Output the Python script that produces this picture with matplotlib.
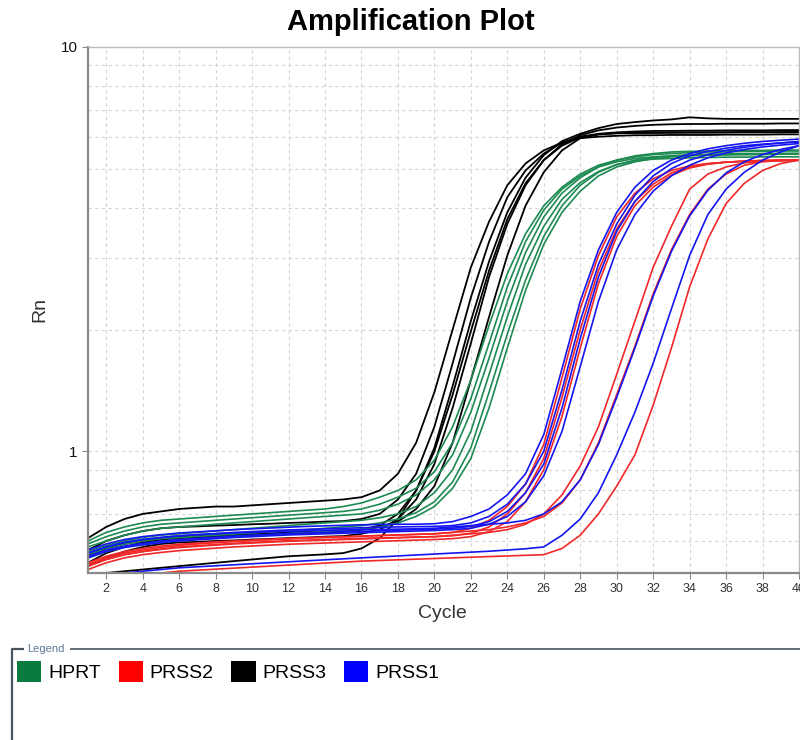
import matplotlib
matplotlib.use('Agg')
import matplotlib.pyplot as plt
from matplotlib.patches import Patch
from matplotlib.ticker import FixedLocator, NullFormatter

cycles = list(range(1, 41))

# PRSS3 (black)
prss3 = [
    [0.61,0.65,0.68,0.70,0.71,0.72,0.725,0.73,0.73,0.735, 0.74,0.745,0.75,0.755,0.76,0.77,0.80,0.88,1.05,1.40,
     2.00,2.85,3.70,4.55,5.15,5.55,5.80,5.95,6.00,6.03, 6.05,6.05,6.06,6.06,6.06,6.07,6.07,6.07,6.08,6.08],
    [0.57,0.60,0.62,0.635,0.645,0.65,0.652,0.655,0.657,0.66, 0.662,0.665,0.667,0.67,0.672,0.68,0.70,0.76,0.88,1.15,
     1.65,2.40,3.30,4.25,4.95,5.45,5.80,6.00,6.10,6.15, 6.18,6.20,6.20,6.21,6.21,6.22,6.22,6.22,6.23,6.23],
    [0.53,0.56,0.58,0.595,0.605,0.61,0.612,0.615,0.617,0.62, 0.622,0.625,0.627,0.63,0.632,0.64,0.655,0.70,0.80,1.02,
     1.45,2.10,2.95,3.90,4.75,5.40,5.85,6.10,6.30,6.45, 6.52,6.58,6.62,6.70,6.66,6.64,6.64,6.64,6.64,6.64],
    [0.52,0.545,0.565,0.58,0.59,0.595,0.597,0.60,0.602,0.605, 0.607,0.61,0.612,0.615,0.617,0.625,0.64,0.68,0.76,0.93,
     1.28,1.85,2.70,3.65,4.55,5.25,5.75,6.05,6.22,6.32, 6.38,6.42,6.44,6.45,6.45,6.46,6.46,6.46,6.47,6.47],
    [0.49,0.50,0.505,0.51,0.515,0.52,0.525,0.53,0.535,0.54, 0.545,0.55,0.553,0.556,0.56,0.575,0.61,0.68,0.80,1.00,
     1.38,1.98,2.80,3.75,4.60,5.25,5.70,5.98,6.08,6.12, 6.13,6.14,6.14,6.15,6.15,6.15,6.16,6.16,6.16,6.17],
    [0.55,0.575,0.59,0.60,0.61,0.615,0.617,0.62,0.622,0.625, 0.627,0.63,0.632,0.635,0.637,0.64,0.65,0.67,0.72,0.82,
     1.05,1.50,2.15,3.05,4.05,4.90,5.55,5.95,6.08,6.12, 6.13,6.13,6.14,6.14,6.14,6.15,6.15,6.15,6.15,6.16],
]

# HPRT (green)
hprt = [
    [0.60,0.63,0.65,0.665,0.675,0.68,0.685,0.69,0.695,0.70, 0.705,0.71,0.715,0.72,0.73,0.745,0.77,0.80,0.85,0.95,
     1.15,1.50,2.05,2.75,3.45,4.05,4.50,4.85,5.10,5.25, 5.35,5.42,5.45,5.48,5.50,5.50,5.52,5.52,5.53,5.53],
    [0.59,0.615,0.635,0.65,0.66,0.665,0.67,0.675,0.68,0.685, 0.69,0.695,0.70,0.705,0.71,0.72,0.74,0.77,0.81,0.89,
     1.05,1.35,1.85,2.55,3.30,3.95,4.45,4.80,5.05,5.20, 5.30,5.35,5.38,5.40,5.41,5.42,5.42,5.43,5.43,5.44],
    [0.58,0.60,0.62,0.635,0.645,0.65,0.655,0.66,0.665,0.67, 0.675,0.68,0.685,0.69,0.695,0.70,0.715,0.74,0.78,0.85,
     0.98,1.25,1.70,2.35,3.10,3.80,4.35,4.75,5.05,5.25, 5.38,5.45,5.50,5.52,5.53,5.54,5.55,5.55,5.56,5.56],
    [0.565,0.585,0.60,0.612,0.62,0.625,0.63,0.635,0.64,0.645, 0.65,0.655,0.66,0.665,0.67,0.675,0.685,0.70,0.73,0.79,
     0.90,1.12,1.55,2.15,2.90,3.60,4.20,4.62,4.92,5.12, 5.22,5.28,5.30,5.32,5.33,5.34,5.34,5.35,5.35,5.35],
    [0.555,0.575,0.59,0.60,0.608,0.612,0.616,0.62,0.624,0.628, 0.632,0.636,0.64,0.645,0.65,0.655,0.665,0.68,0.705,0.75,
     0.84,1.02,1.40,1.95,2.65,3.40,4.05,4.55,4.90,5.12, 5.25,5.33,5.38,5.41,5.43,5.44,5.45,5.45,5.46,5.46],
    [0.545,0.565,0.58,0.59,0.598,0.602,0.606,0.61,0.614,0.618, 0.622,0.626,0.63,0.634,0.638,0.642,0.65,0.665,0.69,0.73,
     0.81,0.96,1.28,1.80,2.50,3.25,3.90,4.40,4.80,5.05, 5.20,5.30,5.35,5.38,5.40,5.41,5.42,5.42,5.43,5.43],
]

# PRSS1 (blue)
prss1 = [
    [0.57,0.59,0.605,0.615,0.622,0.628,0.632,0.636,0.64,0.643, 0.646,0.649,0.652,0.654,0.656,0.658,0.659,0.66,0.66,0.662,
     0.67,0.69,0.72,0.78,0.88,1.10,1.60,2.35,3.15,3.90, 4.50,4.95,5.25,5.45,5.60,5.70,5.78,5.84,5.88,5.92],
    [0.56,0.58,0.595,0.605,0.612,0.618,0.622,0.626,0.63,0.633, 0.636,0.639,0.641,0.643,0.645,0.647,0.649,0.65,0.651,0.652,
     0.655,0.665,0.69,0.74,0.83,1.00,1.42,2.10,2.90,3.65, 4.30,4.80,5.15,5.38,5.52,5.62,5.70,5.75,5.79,5.82],
    [0.55,0.57,0.583,0.592,0.60,0.605,0.609,0.613,0.617,0.62, 0.623,0.626,0.628,0.63,0.632,0.634,0.636,0.638,0.64,0.642,
     0.645,0.652,0.67,0.71,0.79,0.93,1.28,1.90,2.70,3.50, 4.15,4.65,5.00,5.25,5.42,5.55,5.65,5.73,5.79,5.84],
    [0.545,0.565,0.578,0.587,0.594,0.60,0.604,0.608,0.612,0.615, 0.618,0.621,0.623,0.625,0.627,0.629,0.631,0.633,0.635,0.637,
     0.64,0.645,0.66,0.69,0.75,0.87,1.12,1.62,2.35,3.15, 3.85,4.40,4.80,5.10,5.32,5.47,5.58,5.66,5.72,5.77],
    [0.56,0.58,0.595,0.605,0.612,0.618,0.622,0.625,0.628,0.63, 0.632,0.634,0.636,0.638,0.639,0.64,0.641,0.642,0.643,0.645,
     0.65,0.655,0.66,0.665,0.675,0.70,0.75,0.85,1.04,1.36, 1.80,2.42,3.12,3.82,4.42,4.88,5.20,5.42,5.58,5.70],
    [0.49,0.495,0.50,0.505,0.51,0.515,0.518,0.521,0.524,0.527, 0.53,0.533,0.536,0.539,0.542,0.545,0.548,0.551,0.554,0.557,
     0.56,0.563,0.566,0.57,0.574,0.58,0.62,0.68,0.79,0.98, 1.25,1.65,2.25,3.05,3.85,4.45,4.90,5.25,5.50,5.70],
]

# PRSS2 (red)
prss2 = [
    [0.53,0.55,0.565,0.575,0.583,0.589,0.593,0.597,0.60,0.603, 0.606,0.609,0.611,0.613,0.615,0.617,0.619,0.621,0.623,0.625,
     0.63,0.645,0.675,0.73,0.83,1.04,1.52,2.25,3.05,3.80, 4.35,4.72,4.95,5.08,5.15,5.19,5.21,5.22,5.23,5.24],
    [0.52,0.54,0.555,0.565,0.572,0.578,0.582,0.586,0.59,0.593, 0.596,0.599,0.601,0.603,0.605,0.607,0.609,0.611,0.613,0.615,
     0.618,0.627,0.65,0.70,0.79,0.96,1.36,2.00,2.80,3.55, 4.15,4.58,4.88,5.05,5.14,5.19,5.22,5.24,5.25,5.26],
    [0.51,0.53,0.545,0.555,0.562,0.568,0.572,0.576,0.58,0.583, 0.586,0.589,0.591,0.593,0.595,0.597,0.599,0.601,0.603,0.605,
     0.608,0.615,0.633,0.67,0.75,0.90,1.22,1.80,2.60,3.40, 4.05,4.50,4.82,5.02,5.13,5.19,5.22,5.24,5.25,5.26],
    [0.52,0.54,0.555,0.565,0.573,0.58,0.584,0.588,0.592,0.595, 0.598,0.601,0.603,0.605,0.607,0.609,0.611,0.612,0.614,0.615,
     0.62,0.625,0.63,0.64,0.66,0.70,0.78,0.92,1.15,1.55, 2.10,2.85,3.60,4.45,4.85,5.05,5.17,5.22,5.24,5.25],
    [0.525,0.545,0.56,0.57,0.578,0.585,0.59,0.594,0.598,0.601, 0.604,0.607,0.61,0.612,0.614,0.616,0.619,0.621,0.623,0.625,
     0.63,0.635,0.64,0.65,0.665,0.69,0.745,0.85,1.05,1.38, 1.82,2.45,3.15,3.85,4.45,4.85,5.10,5.20,5.24,5.26],
    [0.48,0.485,0.49,0.495,0.50,0.505,0.508,0.511,0.514,0.517, 0.52,0.523,0.526,0.529,0.532,0.535,0.537,0.539,0.541,0.543,
     0.545,0.547,0.549,0.551,0.553,0.555,0.575,0.62,0.70,0.82, 0.98,1.30,1.80,2.55,3.35,4.10,4.60,4.95,5.15,5.25],
]

targets = ['HPRT', 'PRSS2', 'PRSS3', 'PRSS1']
legend_colors = ['#0b7a3e', '#ff0000', '#000000', '#0000ff']
line_colors = {'HPRT': '#1d8a52', 'PRSS2': '#f02828', 'PRSS3': '#000000', 'PRSS1': '#1515f0'}

font = 'Liberation Sans'
fig = plt.figure(figsize=(8, 7.4), dpi=100)
ax = fig.add_axes([88/800, 1-573/740, (799-88)/800, (573-47)/740])

for curve in prss3:
    ax.plot(cycles, curve, color=line_colors['PRSS3'], lw=1.3)
for curve in hprt:
    ax.plot(cycles, curve, color=line_colors['HPRT'], lw=1.2)
for b, r in zip(prss1, prss2):
    ax.plot(cycles, r, color=line_colors['PRSS2'], lw=1.2)
    ax.plot(cycles, b, color=line_colors['PRSS1'], lw=1.2)

ax.set_yscale('log')
ax.set_xlim(1, 40)
ax.set_ylim(0.5, 10)
ax.set_xticks(range(2, 41, 2))
ax.yaxis.set_major_locator(FixedLocator([1, 10]))
ax.set_yticklabels(['1', '10'])
ax.yaxis.set_minor_locator(FixedLocator([0.6, 0.7, 0.8, 0.9, 2, 3, 4, 5, 6, 7, 8, 9]))
ax.yaxis.set_minor_formatter(NullFormatter())
ax.tick_params(axis='y', which='minor', length=0)
ax.tick_params(axis='both', which='major', length=4, color='#888888',
               labelsize=9, labelcolor='#333333')
ax.tick_params(axis='y', which='major', labelsize=11, labelcolor='#111111')
for lab in ax.get_xticklabels() + ax.get_yticklabels():
    lab.set_family(font)

ax.grid(True, which='major', axis='x', color='#d4d4d4', ls=(0, (3, 3)), lw=0.8)
ax.grid(True, which='both', axis='y', color='#d4d4d4', ls=(0, (3, 3)), lw=0.8)
ax.set_axisbelow(True)
for side in ['left', 'bottom']:
    ax.spines[side].set_color('#8a8a8a')
    ax.spines[side].set_linewidth(1.6)
for side in ['top', 'right']:
    ax.spines[side].set_color('#bbbbbb')
    ax.spines[side].set_linewidth(1.0)

fig.text(411/800, 1-22/740, 'Amplification Plot', ha='center', va='center',
         fontsize=21, fontweight='bold', family=font)
fig.text(40/800, 1-310/740, 'Rn', rotation=90, ha='center', va='center',
         fontsize=14, color='#333333', family=font)
fig.text(442/800, 1-613/740, 'Cycle', ha='center', va='center',
         fontsize=14, color='#333333', family=font)

# legend frame
lax = fig.add_axes([0, 0, 1, 1], zorder=-1)
lax.set_xlim(0, 800)
lax.set_ylim(740, 0)
lax.axis('off')
lax.plot([12, 12, 24], [740, 649, 649], color='#4a5560', lw=1.6, solid_capstyle='butt')
lax.plot([70, 800], [649, 649], color='#4a5560', lw=1.2, solid_capstyle='butt')
lax.text(27, 649, 'Legend', ha='left', va='center', fontsize=8, color='#5a7896', family=font)

handles = [Patch(facecolor=c, edgecolor='none') for c in legend_colors]
fig.legend(handles, targets, loc='upper left', bbox_to_anchor=(17/800, 1-661/740),
           ncol=4, frameon=False, prop={'family': font, 'size': 14},
           handlelength=1.25, handleheight=1.3, handletextpad=0.36,
           columnspacing=0.9, borderaxespad=0, borderpad=0)

fig.savefig('out.png', dpi=100)
